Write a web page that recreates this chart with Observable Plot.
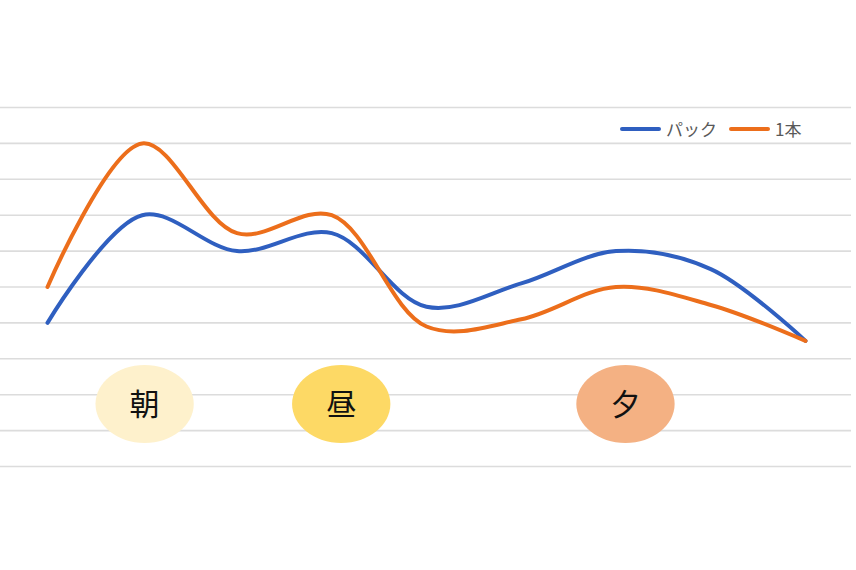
<!DOCTYPE html>
<html>
<head>
<meta charset="utf-8">
<script src="https://cdn.jsdelivr.net/npm/d3@7"></script>
<script src="https://cdn.jsdelivr.net/npm/@observablehq/plot@0.6"></script>
<style>
  html, body { margin: 0; padding: 0; background: #fff; }
  #wrap { position: relative; width: 856px; height: 570px; font-family: "Noto Sans CJK JP", "Noto Sans", sans-serif; }
  #legend { position: absolute; left: 620px; top: 116px; display: flex; align-items: center; font-size: 17px; color: #595959; }
  #legend .sw { display: inline-block; width: 41px; height: 4px; border-radius: 2px; margin-right: 5px; }
  #legend .item { display: flex; align-items: center; margin-right: 12px; }
</style>
</head>
<body>
<div id="wrap"><div id="legend"></div></div>
<script>
// Data
const hours = [6, 8, 10, 12, 14, 16, 18, 20, 22];
const pack = [4.0, 7.0, 6.0, 6.5, 4.45, 5.1, 6.0, 5.5, 3.5];   // パック
const ippon = [5.0, 9.0, 6.5, 7.0, 3.9, 4.1, 5.0, 4.5, 3.5];   // 1本
const seriesNames = ["パック", "1本"];
const seriesColors = ["#2F5FC0", "#EC6E1B"];
const gridValues = d3.range(0, 11);
const periods = ["朝", "昼", "夕"];
const periodHours = [8.05, 12.2, 18.2];
const periodColors = ["#FEF1CC", "#FDD965", "#F4B183"];
const periodLevel = 1.74;

const rows = [];
hours.forEach((h, i) => {
  rows.push({hour: h, value: pack[i], series: seriesNames[0]});
  rows.push({hour: h, value: ippon[i], series: seriesNames[1]});
});
const bubbles = periods.map((p, i) => ({label: p, hour: periodHours[i], y: periodLevel, color: periodColors[i]}));

// ellipse symbol (wider than tall)
const ellipse = {
  draw(context, size) {
    const r = Math.sqrt(size / Math.PI);
    const rx = r * 1.26, ry = r;
    const k = 0.5522847498;
    context.moveTo(rx, 0);
    context.bezierCurveTo(rx, ry * k, rx * k, ry, 0, ry);
    context.bezierCurveTo(-rx * k, ry, -rx, ry * k, -rx, 0);
    context.bezierCurveTo(-rx, -ry * k, -rx * k, -ry, 0, -ry);
    context.bezierCurveTo(rx * k, -ry, rx, -ry * k, rx, 0);
    context.closePath();
  }
};

const chart = Plot.plot({
  width: 856,
  height: 570,
  marginLeft: 47,
  marginRight: 51,
  marginTop: 107,
  marginBottom: 104,
  x: {domain: [6, 22], axis: null},
  y: {domain: [0, 10], axis: null},
  color: {domain: seriesNames, range: seriesColors},
  style: {background: "transparent", fontFamily: "'Noto Sans CJK JP', sans-serif"},
  marks: [
    Plot.ruleY(gridValues, {stroke: "#dcdcdc", strokeWidth: 1.6, insetLeft: -47, insetRight: -46}),
    Plot.dot(bubbles, {x: "hour", y: "y", r: 39, symbol: ellipse, fill: "color", stroke: "none"}),
    Plot.text(bubbles, {x: "hour", y: "y", text: "label", fontSize: 30, fill: "#111", dy: 1}),
    Plot.line(rows, {x: "hour", y: "value", z: "series", stroke: "series", strokeWidth: 4, curve: "catmull-rom", strokeLinecap: "round", strokeLinejoin: "round"})
  ]
});
document.getElementById("wrap").prepend(chart);
chart.style.position = "absolute";
chart.style.left = "0";
chart.style.top = "0";

const legend = document.getElementById("legend");
seriesNames.forEach((n, i) => {
  const it = document.createElement("span");
  it.className = "item";
  it.innerHTML = `<span class="sw" style="background:${seriesColors[i]}"></span>${n}`;
  legend.appendChild(it);
});
legend.style.zIndex = 2;
</script>
</body>
</html>
